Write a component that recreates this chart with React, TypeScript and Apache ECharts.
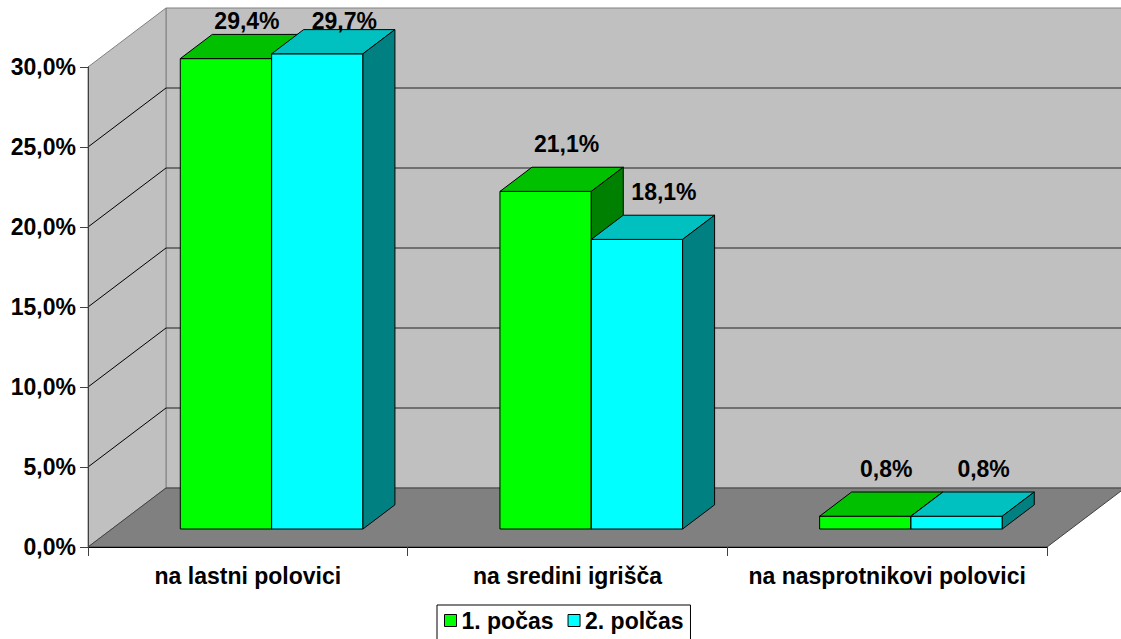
import React, { useEffect, useRef } from 'react';
import * as echarts from 'echarts';

const categories = ['na lastni polovici', 'na sredini igrišča', 'na nasprotnikovi polovici'];
const series1Name = '1. počas';
const series1 = [29.4, 21.1, 0.8];
const series2Name = '2. polčas';
const series2 = [29.7, 18.1, 0.8];
const yTicks = [0, 5, 10, 15, 20, 25, 30];

const FONT = '"Liberation Sans", Arial, sans-serif';
const FS = 23;
const DX = 78;
const DY = -59;
const F0 = 0.305;
const FD = 0.41;
const BAR_FRAC = 0.2857;

const palette = [
  { front: '#00FF00', top: '#00C000', side: '#008000' },
  { front: '#00FFFF', top: '#00C0C0', side: '#008080' },
];

const fmt = (v: number) => v.toFixed(1).replace('.', ',') + '%';

function barRenderer(s: number) {
  return (params: any, api: any) => {
    const i = api.value(0);
    const v = api.value(1);
    const top = api.coord([i, v]);
    const base = api.coord([i, 0]);
    const bandW = api.size([1, 0])[0];
    const bw = bandW * BAR_FRAC;
    const ox = DX * F0;
    const oy = DY * F0;
    const bdx = DX * FD;
    const bdy = DY * FD;
    const left = base[0] - (s === 0 ? bw : 0) + ox;
    const right = left + bw;
    const yb = base[1] + oy;
    const yt = top[1] + oy;
    const c = palette[s];
    const stroke = { stroke: '#000', lineWidth: 1 };
    return {
      type: 'group',
      children: [
        { type: 'rect', shape: { x: left, y: yt, width: bw, height: yb - yt }, style: { fill: c.front, ...stroke } },
        {
          type: 'polygon',
          shape: { points: [[left, yt], [left + bdx, yt + bdy], [right + bdx, yt + bdy], [right, yt]] },
          style: { fill: c.top, ...stroke },
        },
        {
          type: 'polygon',
          shape: { points: [[right, yt], [right + bdx, yt + bdy], [right + bdx, yb + bdy], [right, yb]] },
          style: { fill: c.side, ...stroke },
        },
        {
          type: 'text',
          style: {
            text: fmt(v),
            x: left + bw / 2 + (s === 0 ? 21 : 27),
            y: Math.max(yt + bdy - 23, 21),
            fill: '#000',
            fontSize: FS,
            fontWeight: 'bold',
            fontFamily: FONT,
            align: 'center',
            verticalAlign: 'middle',
          },
        },
      ],
    };
  };
}

function wallsRenderer(params: any, api: any) {
  if (params.dataIndex !== 0) return null;
  const n = categories.length;
  const b0 = api.coord([0, 0]);
  const b2 = api.coord([n - 1, 0]);
  const bandW = api.size([1, 0])[0];
  const x0 = b0[0] - bandW / 2;
  const x1 = b2[0] + bandW / 2;
  const y0 = b0[1];
  const yT = api.coord([0, yTicks[yTicks.length - 1]])[1];
  const children: any[] = [
    {
      type: 'rect',
      shape: { x: x0 + DX, y: yT + DY, width: x1 - x0, height: y0 - yT },
      style: { fill: '#C0C0C0', stroke: '#808080', lineWidth: 1 },
    },
    {
      type: 'polygon',
      shape: { points: [[x0, y0], [x0, yT], [x0 + DX, yT + DY], [x0 + DX, y0 + DY]] },
      style: { fill: '#C0C0C0', stroke: '#808080', lineWidth: 1 },
    },
    {
      type: 'polygon',
      shape: { points: [[x0, y0], [x0 + DX, y0 + DY], [x1 + DX, y0 + DY], [x1, y0]] },
      style: { fill: '#808080', stroke: '#404040', lineWidth: 1 },
    },
  ];
  yTicks.slice(1, -1).forEach((t) => {
    const y = api.coord([0, t])[1];
    children.push({
      type: 'line',
      shape: { x1: x0, y1: y, x2: x0 + DX, y2: y + DY },
      style: { stroke: '#000', lineWidth: 1 },
    });
    children.push({
      type: 'line',
      shape: { x1: x0 + DX, y1: y + DY, x2: x1 + DX, y2: y + DY },
      style: { stroke: '#202020', lineWidth: 1 },
    });
  });
  return { type: 'group', children };
}

export default function App() {
  const ref = useRef<HTMLDivElement>(null);
  useEffect(() => {
    document.body.style.margin = '0';
    const chart = echarts.init(ref.current!, null, { renderer: 'svg' });
    const option: any = {
      animation: false,
      backgroundColor: '#fff',
      grid: { left: 88, right: 74, top: 67, bottom: 92 },
      legend: {
        data: [series1Name, series2Name],
        left: 437,
        top: 605,
        orient: 'horizontal',
        icon: 'rect',
        itemWidth: 12,
        itemHeight: 12,
        itemGap: 14,
        selectedMode: false,
        backgroundColor: '#fff',
        borderColor: '#000',
        borderWidth: 1,
        borderRadius: 0,
        padding: [4, 7, 20, 7],
        itemStyle: { borderColor: '#000', borderWidth: 1 },
        textStyle: { color: '#000', fontSize: FS, fontWeight: 'bold', fontFamily: FONT },
      },
      xAxis: {
        type: 'category',
        data: categories,
        z: 5,
        axisLine: { show: true, lineStyle: { color: '#000', width: 1 } },
        axisTick: { show: true, alignWithLabel: false, length: 9, lineStyle: { color: '#404040' } },
        axisLabel: { color: '#000', fontSize: FS, fontWeight: 'bold', fontFamily: FONT, margin: 17, interval: 0 },
        splitLine: { show: false },
      },
      yAxis: {
        type: 'value',
        min: 0,
        max: 30,
        interval: 5,
        z: 5,
        axisLine: { show: true, lineStyle: { color: '#404040', width: 1 } },
        axisTick: { show: true, length: 8, lineStyle: { color: '#404040' } },
        axisLabel: {
          color: '#000',
          fontSize: FS,
          fontWeight: 'bold',
          fontFamily: FONT,
          margin: 12,
          formatter: (v: number) => fmt(v),
        },
        splitLine: { show: false },
      },
      series: [
        {
          type: 'custom',
          name: 'walls',
          z: 1,
          silent: true,
          clip: false,
          data: [[0, 0]],
          encode: { x: 0, y: 1 },
          renderItem: wallsRenderer,
        },
        {
          type: 'custom',
          name: series1Name,
          z: 2,
          clip: false,
          itemStyle: { color: palette[0].front },
          data: series1.map((v, i) => [i, v]),
          encode: { x: 0, y: 1 },
          renderItem: barRenderer(0),
        },
        {
          type: 'custom',
          name: series2Name,
          z: 3,
          clip: false,
          itemStyle: { color: palette[1].front },
          data: series2.map((v, i) => [i, v]),
          encode: { x: 0, y: 1 },
          renderItem: barRenderer(1),
        },
      ],
    };
    chart.setOption(option);
    return () => chart.dispose();
  }, []);
  return <div ref={ref} style={{ width: 1121, height: 639 }} />;
}
